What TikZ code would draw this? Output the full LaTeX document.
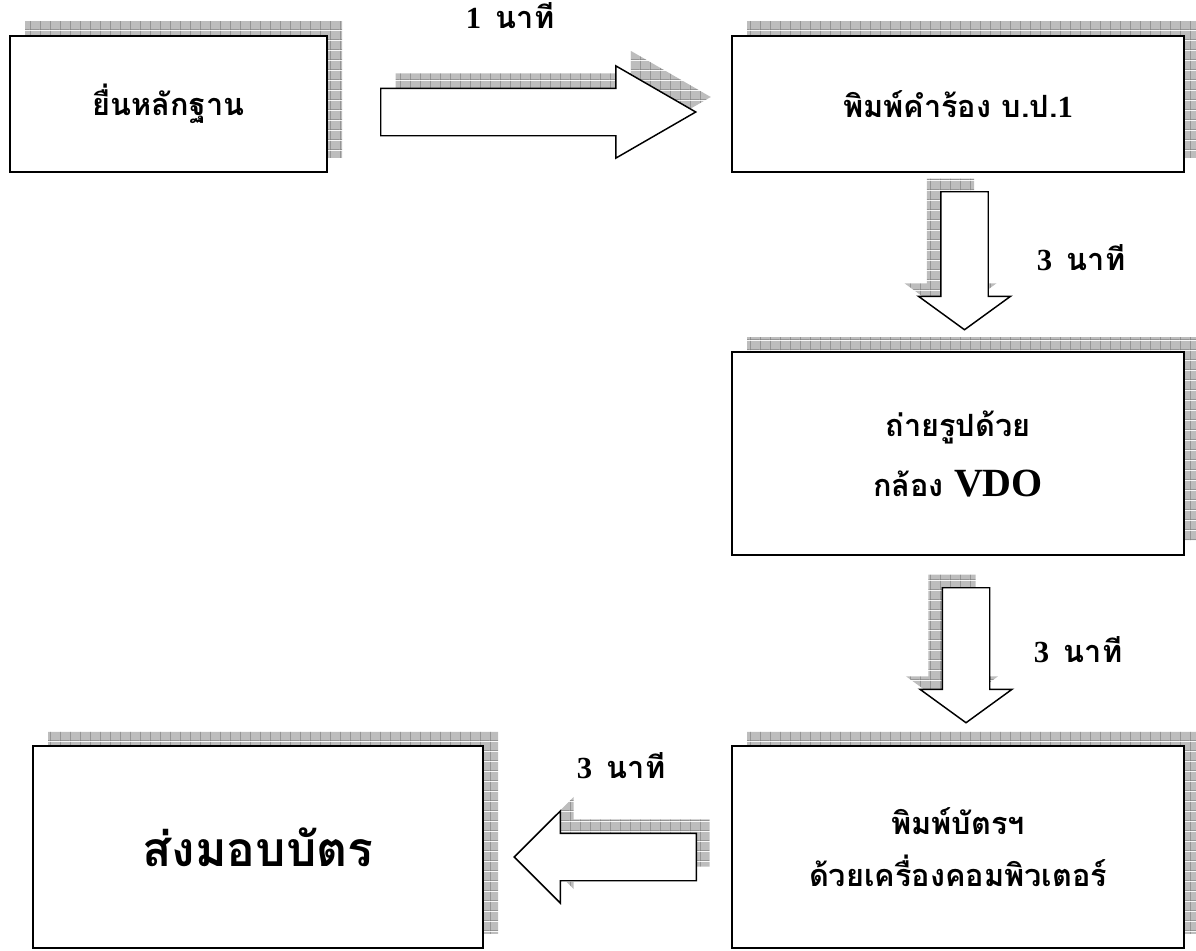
\documentclass[tikz,border=0pt]{standalone}
\usepackage{fontspec}
\setmainfont{Liberation Serif}
\newfontfamily\thaifont[Script=Thai]{Loma}
\usetikzlibrary{shapes.arrows,shadows,patterns}

\pgfdeclarepatterninherentlycolored{shadowgrid}{\pgfpointorigin}{\pgfqpoint{7.5pt}{7.5pt}}{\pgfqpoint{7.5pt}{7.5pt}}{
  \pgfsetfillcolor{black!26}
  \pgfpathrectangle{\pgfpointorigin}{\pgfqpoint{7.5pt}{7.5pt}}
  \pgfusepath{fill}
  \pgfsetstrokecolor{black!50}
  \pgfsetlinewidth{0.5pt}
  \pgfpathmoveto{\pgfqpoint{0pt}{0.25pt}}\pgfpathlineto{\pgfqpoint{7.5pt}{0.25pt}}
  \pgfpathmoveto{\pgfqpoint{0.25pt}{0pt}}\pgfpathlineto{\pgfqpoint{0.25pt}{7.5pt}}
  \pgfusepath{stroke}
}

\tikzset{
  grid shadow/.style 2 args={
      general shadow={shadow xshift=#1, shadow yshift=#2, pattern=shadowgrid}},
  stepbox/.style={draw, line width=1.1pt, fill=white, inner sep=0pt, align=center,
      font=\thaifont\bfseries\fontsize{23}{27}\selectfont},
  blockarrow/.style={single arrow, draw, line width=1.1pt, fill=white, inner sep=17.25pt,
      single arrow head extend=16.75pt, anchor=tail},
  timelabel/.style={font=\bfseries\fontsize{23}{26}\selectfont, inner sep=0pt}
}

\begin{document}
\begin{tikzpicture}[x=0.75pt,y=-0.75pt]
  \useasboundingbox (0,0) rectangle (1196,950);

  % steps
  \begin{scope}[every node/.style={stepbox, grid shadow={11.25pt}{11.25pt}}]
    \node[minimum width=237.75pt, minimum height=102pt] (evidence) at (168.5,104) {ยื่นหลักฐาน};
    \node[minimum width=339pt, minimum height=102pt] (form) at (958,104) {พิมพ์คำร้อง บ.ป.{\rmfamily 1}};
    \node[minimum width=339pt, minimum height=152.25pt] (photo) at (958,453.5)
      {ถ่ายรูปด้วย\\[18pt] กล้อง {\rmfamily\fontsize{30}{32}\selectfont VDO}};
    \node[minimum width=339pt, minimum height=151.5pt] (card) at (958,847)
      {พิมพ์บัตรฯ\\[12pt] ด้วยเครื่องคอมพิวเตอร์};
    \node[minimum width=337.5pt, minimum height=151.5pt, font=\thaifont\bfseries\fontsize{36}{40}\selectfont]
      (handover) at (258,847) {ส่งมอบบัตร};
  \end{scope}

  % arrows
  \begin{scope}[every node/.style={blockarrow}]
    \node[minimum height=236.25pt, single arrow tip angle=60,
      grid shadow={11.25pt}{11.25pt}] (toform) at (380,112) {};
    \node[minimum height=103.5pt, shape border rotate=270, single arrow tip angle=108,
      grid shadow={-10.5pt}{9.75pt}] (tophoto) at (964.5,191) {};
    \node[minimum height=101.25pt, shape border rotate=270, single arrow tip angle=108,
      grid shadow={-10.5pt}{9.75pt}] (tocard) at (966,587) {};
    \node[minimum height=136.5pt, shape border rotate=180, single arrow tip angle=90,
      grid shadow={10pt}{10.5pt}] (tohand) at (697,857) {};
  \end{scope}

  % times
  \begin{scope}[every node/.style={timelabel}]
    \node (t1) at (510,16) {1\hspace{11pt}{\thaifont นาที}};
    \node (t2) at (1081,258) {3\hspace{11pt}{\thaifont นาที}};
    \node (t3) at (1078,650) {3\hspace{11pt}{\thaifont นาที}};
    \node (t4) at (621,766) {3\hspace{11pt}{\thaifont นาที}};
  \end{scope}

\end{tikzpicture}
\end{document}
